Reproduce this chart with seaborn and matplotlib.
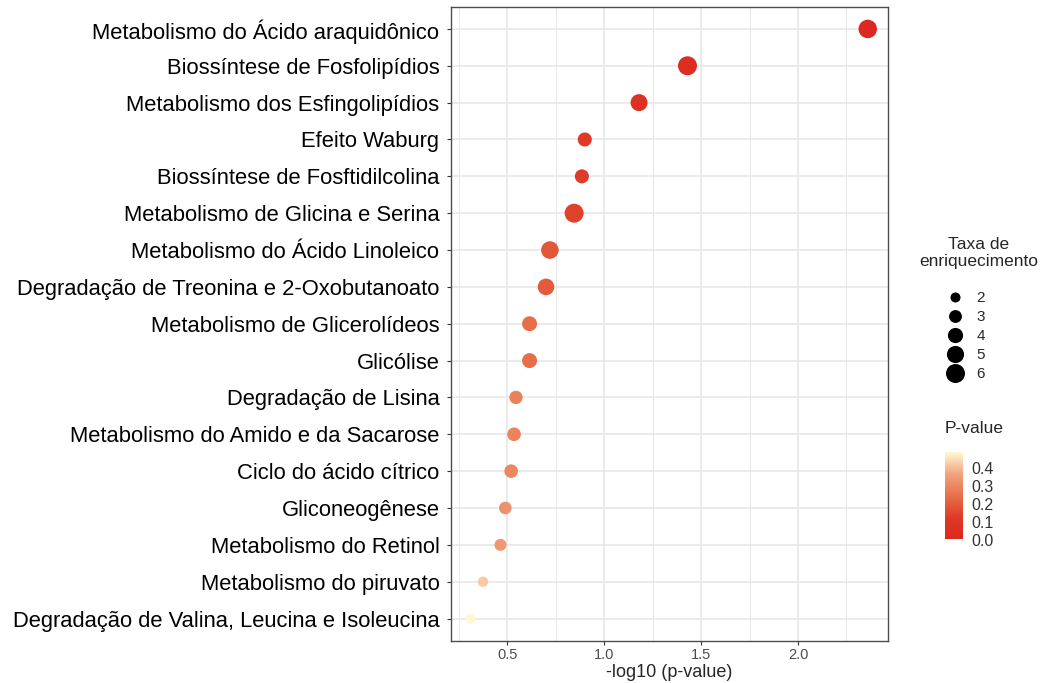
import numpy as np
import pandas as pd
import seaborn as sns
import matplotlib.pyplot as plt
from matplotlib.colors import LinearSegmentedColormap, Normalize
from matplotlib.lines import Line2D
from matplotlib.ticker import MultipleLocator
import matplotlib.cm as cm

# Vias e valores
vias = [
    "Metabolismo do Ácido araquidônico",
    "Biossíntese de Fosfolipídios",
    "Metabolismo dos Esfingolipídios",
    "Efeito Waburg",
    "Biossíntese de Fosftidilcolina",
    "Metabolismo de Glicina e Serina",
    "Metabolismo do Ácido Linoleico",
    "Degradação de Treonina e 2-Oxobutanoato",
    "Metabolismo de Glicerolídeos",
    "Glicólise",
    "Degradação de Lisina",
    "Metabolismo do Amido e da Sacarose",
    "Ciclo do ácido cítrico",
    "Gliconeogênese",
    "Metabolismo do Retinol",
    "Metabolismo do piruvato",
    "Degradação de Valina, Leucina e Isoleucina",
]
neg_log_p = [2.36, 1.43, 1.18, 0.90, 0.885, 0.845, 0.72, 0.70, 0.615, 0.615,
             0.545, 0.535, 0.52, 0.49, 0.465, 0.375, 0.31]
taxa = [5.7, 6.6, 4.9, 3.5, 3.5, 6.6, 5.2, 4.7, 3.9, 3.9,
        3.2, 3.3, 3.3, 2.9, 2.7, 2.1, 1.4]
legenda_taxa = [2, 3, 4, 5, 6]
ticks_p = [0.0, 0.1, 0.2, 0.3, 0.4]

df = pd.DataFrame({"via": vias, "x": neg_log_p, "taxa": taxa})
df["p"] = 10 ** (-df["x"])

cmap = LinearSegmentedColormap.from_list(
    "pval", ["#DC2820", "#DE3A26", "#E8704A", "#F0A47E", "#FFF8D2"])
norm = Normalize(df["p"].min(), df["p"].max())
tamanhos = (52, 187)
norm_tam = (2, 6)

sns.set_theme(style="white")
plt.rcParams["font.family"] = ["Liberation Sans", "DejaVu Sans"]

fig = plt.figure(figsize=(10.43, 6.83), dpi=100)
ax = fig.add_axes([0.432, 0.062, 0.419, 0.928])

sns.scatterplot(data=df, x="x", y="via", hue="p", palette=cmap, hue_norm=norm,
                size="taxa", sizes=tamanhos, size_norm=norm_tam,
                linewidth=0, legend=False, ax=ax, zorder=3)

ax.set_ylim(len(vias) - 0.4, -0.6)
ax.xaxis.set_major_locator(MultipleLocator(0.5))
ax.xaxis.set_minor_locator(MultipleLocator(0.25))
ax.grid(True, which="major", color="#E6E6E6", linewidth=1.1)
ax.grid(True, which="minor", axis="x", color="#E6E6E6", linewidth=0.7)
ax.set_axisbelow(True)
for s in ax.spines.values():
    s.set_color("#4D4D4D")
    s.set_linewidth(1.0)
ax.tick_params(axis="y", labelsize=15.8, labelcolor="black", length=3,
               width=0.8, color="#333333", left=True, pad=5)
ax.tick_params(axis="x", labelsize=10.5, labelcolor="#4D4D4D", length=3,
               width=0.8, color="#333333", bottom=True, pad=2.5)
ax.tick_params(axis="x", which="minor", length=0)
ax.set_xlabel("-log10 (p-value)", fontsize=13, labelpad=1)
ax.set_ylabel("")

# Legenda de tamanho
fig.text(0.938, 0.630, "Taxa de\nenriquecimento", ha="center", va="center",
         fontsize=12.5, linespacing=1.2)
handles = [Line2D([], [], linestyle="none", marker="o", color="black",
                  markeredgewidth=0,
                  markersize=np.sqrt(tamanhos[0] + (v - norm_tam[0]) /
                                     (norm_tam[1] - norm_tam[0]) *
                                     (tamanhos[1] - tamanhos[0])))
           for v in legenda_taxa]
fig.legend(handles, [str(v) for v in legenda_taxa], frameon=False,
           loc="upper left", bbox_to_anchor=(0.891, 0.594),
           fontsize=11, labelspacing=0.33, handletextpad=0.6,
           handlelength=1.6)

# Barra de cores
cax = fig.add_axes([0.906, 0.209, 0.0173, 0.129])
cb = fig.colorbar(cm.ScalarMappable(norm=norm, cmap=cmap), cax=cax)
cb.outline.set_visible(False)
cb.set_ticks(ticks_p)
cb.ax.tick_params(length=0, labelsize=11.5, labelcolor="#333333", pad=6)
cax.set_title("P-value", fontsize=12.5, loc="left", pad=14)

fig.savefig("out.png", dpi=100)
